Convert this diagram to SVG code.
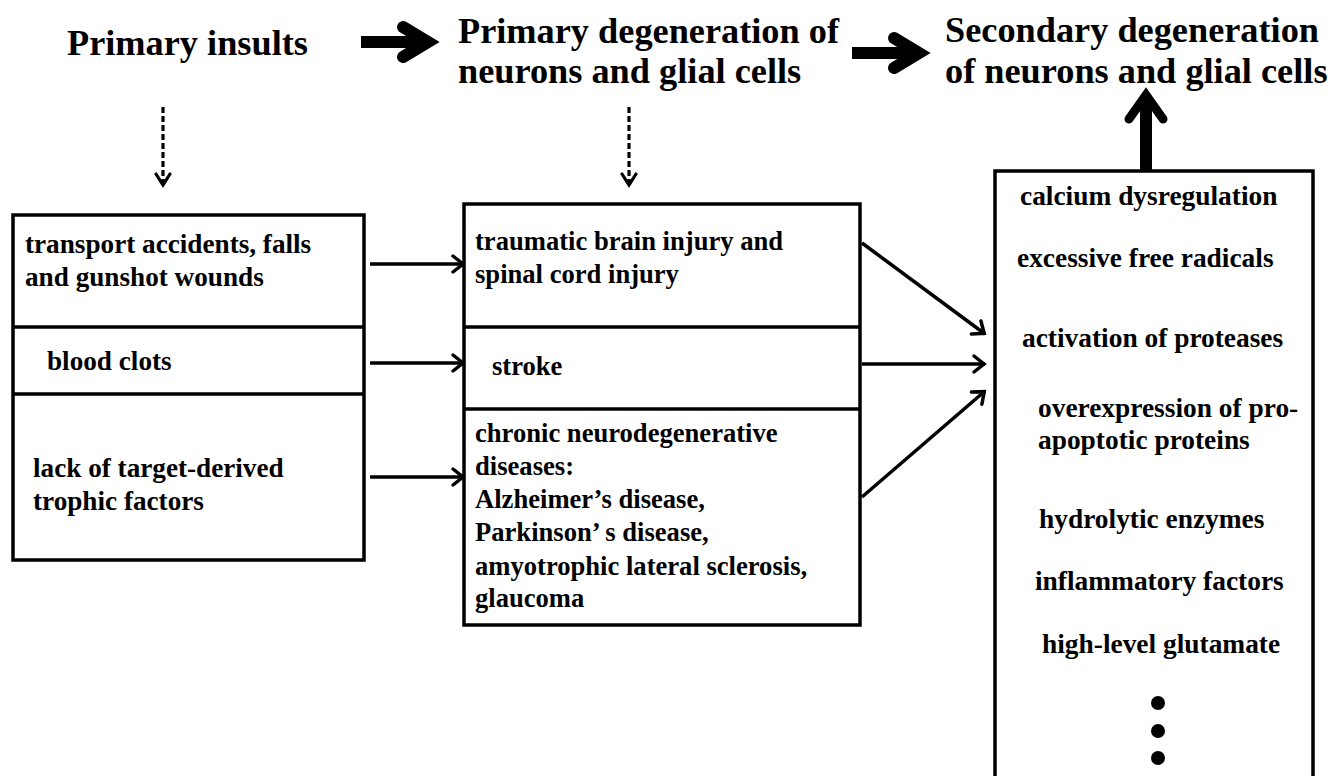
<svg xmlns="http://www.w3.org/2000/svg" width="1333" height="776" viewBox="0 0 1333 776">
<defs>
<style>
text{font-family:"Liberation Serif","Times New Roman",serif;font-weight:bold;fill:#000}
.h{font-size:36.3px}
.tl{font-size:27.2px}
.tm{font-size:26.6px}
.tr{font-size:27.4px}
.box{fill:#fff;stroke:#000;stroke-width:3.5}
.div{stroke:#000;stroke-width:3.5;fill:none}
.thin{stroke:#000;stroke-width:3.5;fill:none}
.dash{stroke:#000;stroke-width:3.2;fill:none;stroke-dasharray:6 3}
.head{stroke:#000;fill:none;stroke-linecap:round;stroke-linejoin:miter}
.thick{stroke:#000;stroke-width:12;fill:none}
</style>
<marker id="ah" markerUnits="userSpaceOnUse" viewBox="-16 -12 20 24" markerWidth="20" markerHeight="24" refX="0" refY="0" orient="auto">
<path d="M-11,-8 L-1,0 L-11,8" fill="none" stroke="#000" stroke-width="3.5" stroke-linecap="round"/>
</marker>
<marker id="ahd" markerUnits="userSpaceOnUse" viewBox="-16 -12 20 24" markerWidth="20" markerHeight="24" refX="0" refY="0" orient="auto">
<path d="M-12,-7 L-1,0 L-12,7" fill="none" stroke="#000" stroke-width="3.2" stroke-linecap="round"/>
</marker>
</defs>
<rect width="1333" height="776" fill="#fff"/>

<g id="header-insults"><text class="h" x="67" y="55">Primary insults</text></g>
<g id="header-primary"><text class="h" x="458" y="43">Primary degeneration of</text><text class="h" x="458" y="83">neurons and glial cells</text></g>
<g id="header-secondary"><text class="h" x="945" y="42">Secondary degeneration</text><text class="h" x="945" y="83">of neurons and glial cells</text></g>

<g id="box-insults">
<rect class="box" x="13" y="215" width="351" height="345"/>
<line class="div" x1="13" y1="327" x2="364" y2="327"/>
<line class="div" x1="13" y1="394" x2="364" y2="394"/>
<text class="tl" x="25" y="253">transport accidents, falls</text>
<text class="tl" x="25" y="286">and gunshot wounds</text>
<text class="tl" x="47" y="370">blood clots</text>
<text class="tl" x="33" y="477">lack of target-derived</text>
<text class="tl" x="33" y="510">trophic factors</text>
</g>

<g id="box-primary">
<rect class="box" x="464" y="204" width="396" height="421"/>
<line class="div" x1="464" y1="327" x2="860" y2="327"/>
<line class="div" x1="464" y1="409" x2="860" y2="409"/>
<text class="tm" x="475" y="250">traumatic brain injury and</text>
<text class="tm" x="475" y="283">spinal cord injury</text>
<text class="tm" x="492" y="375">stroke</text>
<text class="tm" x="475" y="442">chronic neurodegenerative</text>
<text class="tm" x="475" y="475">diseases:</text>
<text class="tm" x="475" y="508">Alzheimer’s disease,</text>
<text class="tm" x="475" y="541">Parkinson’ s disease,</text>
<text class="tm" x="475" y="575">amyotrophic lateral sclerosis,</text>
<text class="tm" x="475" y="607">glaucoma</text>
</g>

<g id="box-secondary">
<rect class="box" x="995" y="171" width="318" height="640"/>
<text class="tr" x="1020" y="205">calcium dysregulation</text>
<text class="tr" x="1017" y="267">excessive free radicals</text>
<text class="tr" x="1022" y="347">activation of proteases</text>
<text class="tr" x="1038" y="417">overexpression of pro-</text>
<text class="tr" x="1038" y="449">apoptotic proteins</text>
<text class="tr" x="1039" y="528">hydrolytic enzymes</text>
<text class="tr" x="1035" y="590">inflammatory factors</text>
<text class="tr" x="1042" y="653">high-level glutamate</text>
<circle cx="1158" cy="703" r="7"/>
<circle cx="1158" cy="731" r="7"/>
<circle cx="1158" cy="758" r="7"/>
</g>

<g id="connectors">
<path class="thick" d="M361,42 H428"/>
<path class="head" stroke-width="12" d="M403,27 L428,42 L403,57"/>
<path class="thick" d="M852,53 H919"/>
<path class="head" stroke-width="12" d="M894,38 L919,53 L894,68"/>
<path class="thick" stroke-width="9" d="M1146,170 V97"/>
<path class="head" stroke-width="9" d="M1129,119 L1146,95 L1163,119"/>
<path class="dash" d="M163,107 V186" marker-end="url(#ahd)"/>
<path class="dash" d="M629,107 V186" marker-end="url(#ahd)"/>
<path class="thin" d="M370,264 H464" marker-end="url(#ah)"/>
<path class="thin" d="M370,363 H464" marker-end="url(#ah)"/>
<path class="thin" d="M370,477 H464" marker-end="url(#ah)"/>
<path class="thin" d="M862,243 L985,334" marker-end="url(#ah)"/>
<path class="thin" d="M862,364 H985" marker-end="url(#ah)"/>
<path class="thin" d="M862,497 L985,391" marker-end="url(#ah)"/>
</g>
</svg>
